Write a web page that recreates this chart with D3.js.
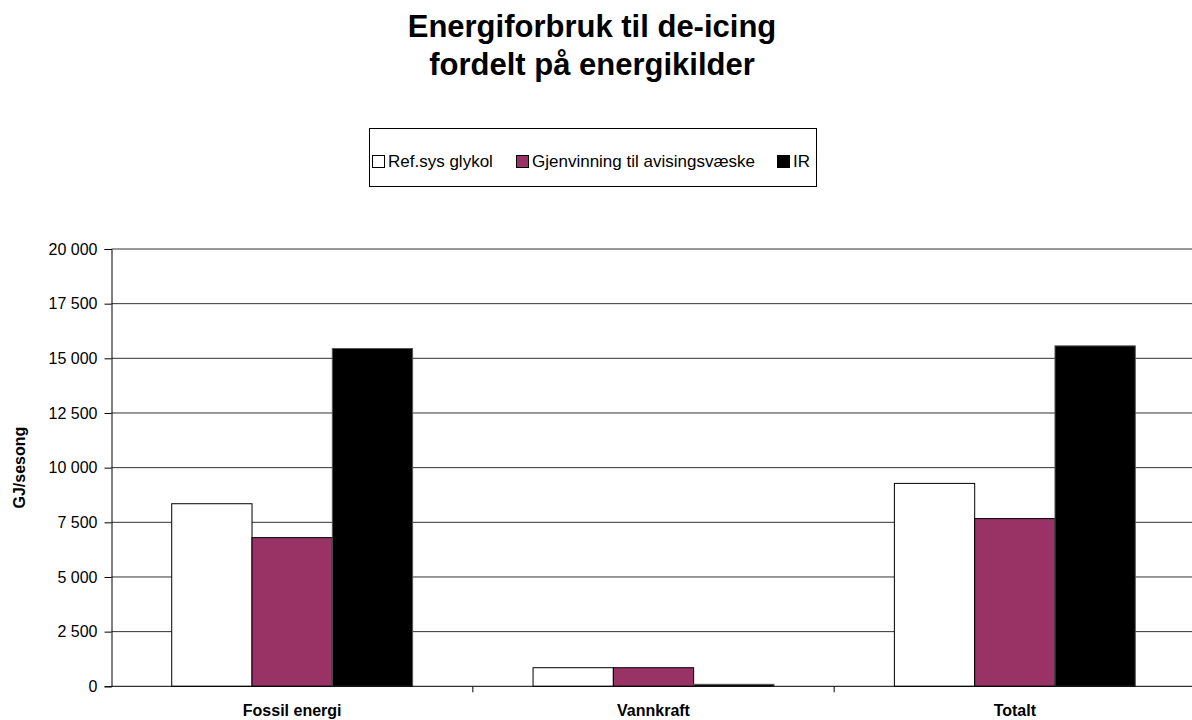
<!DOCTYPE html>
<html>
<head>
<meta charset="utf-8">
<script src="https://cdn.jsdelivr.net/npm/d3@7"></script>
<style>
  body { margin: 0; background: #fff; }
  text { font-family: Arial, "Liberation Sans", sans-serif; }
</style>
</head>
<body>
<svg width="1192" height="720"></svg>
<script>
// data
const categories = ['Fossil energi', 'Vannkraft', 'Totalt']
const seriesNames = ['Ref.sys glykol', 'Gjenvinning til avisingsvæske', 'IR']
const refsys = [8350, 850, 9280]
const gjenvinning = [6800, 850, 7670]
const ir = [15450, 90, 15570]
const yTicks = [0, 2500, 5000, 7500, 10000, 12500, 15000, 17500, 20000]
const colors = ['#ffffff', '#993366', '#000000']

const seriesValues = [refsys, gjenvinning, ir]

function main() {
  let svg = d3.select('svg')
  let left = 111.5, right = 1195.5, top = 249, bottom = 686.3

  let xScale = d3.scaleBand().domain(categories).range([left, right])
  let yScale = d3.scaleLinear().domain([0, 20000]).range([bottom, top])

  // title
  let title = svg.append('text')
    .attr('text-anchor', 'middle')
    .attr('font-weight', 'bold')
    .attr('font-size', 31)
  title.append('tspan').attr('x', 592).attr('y', 37).text('Energiforbruk til de-icing')
  title.append('tspan').attr('x', 592).attr('y', 75).text('fordelt på energikilder')

  // gridlines
  svg.append('g')
    .selectAll('line')
    .data(yTicks.slice(1))
    .enter()
    .append('line')
    .attr('x1', left).attr('x2', right)
    .attr('y1', d => yScale(d)).attr('y2', d => yScale(d))
    .attr('stroke', '#333').attr('stroke-width', 1)

  // y axis
  let fmt = d => d3.format(',')(d).replace(/,/g, ' ')
  svg.append('g')
    .attr('transform', 'translate(' + left + ',0)')
    .call(d3.axisLeft(yScale).tickValues(yTicks).tickFormat(fmt).tickSize(7).tickPadding(7))
    .call(g => g.selectAll('text').attr('font-size', 16).attr('fill', '#000').style('font-family', 'Arial, "Liberation Sans", sans-serif'))
    .call(g => g.selectAll('line, path').attr('stroke', '#000'))

  svg.append('text')
    .attr('transform', 'translate(25,' + (top + bottom) / 2 + ') rotate(-90)')
    .attr('text-anchor', 'middle')
    .attr('font-weight', 'bold')
    .attr('font-size', 16)
    .text('GJ/sesong')

  // bars
  let bw = xScale.bandwidth() / 4.5
  seriesValues.forEach((vals, si) => {
    svg.append('g')
      .selectAll('rect')
      .data(vals)
      .enter()
      .append('rect')
      .attr('x', (d, i) => xScale(categories[i]) + 0.75 * bw + si * bw)
      .attr('y', d => yScale(d))
      .attr('width', bw)
      .attr('height', d => bottom - yScale(d))
      .attr('fill', colors[si])
      .attr('stroke', si === 2 ? '#555' : '#000')
      .attr('stroke-width', 1)
  })

  // x axis
  svg.append('line')
    .attr('x1', left).attr('x2', right)
    .attr('y1', bottom).attr('y2', bottom)
    .attr('stroke', '#000')
  svg.append('g')
    .selectAll('line')
    .data(categories.slice(1))
    .enter()
    .append('line')
    .attr('x1', d => xScale(d)).attr('x2', d => xScale(d))
    .attr('y1', bottom).attr('y2', bottom + 6)
    .attr('stroke', '#000')
  svg.append('g')
    .selectAll('text')
    .data(categories)
    .enter()
    .append('text')
    .attr('x', d => xScale(d) + xScale.bandwidth() / 2)
    .attr('y', 716)
    .attr('text-anchor', 'middle')
    .attr('font-weight', 'bold')
    .attr('font-size', 16)
    .text(d => d)

  // legend
  svg.append('rect')
    .attr('x', 369.5).attr('y', 128.5)
    .attr('width', 447).attr('height', 58)
    .attr('fill', '#fff').attr('stroke', '#000')
  let lx = [372, 516, 777]
  seriesNames.forEach((name, i) => {
    svg.append('rect')
      .attr('x', lx[i] + 0.5).attr('y', 155.5)
      .attr('width', 12).attr('height', 12)
      .attr('fill', colors[i]).attr('stroke', '#000')
    svg.append('text')
      .attr('x', lx[i] + 16).attr('y', 167)
      .attr('font-size', 17)
      .text(name)
  })
}
main()
</script>
</body>
</html>
